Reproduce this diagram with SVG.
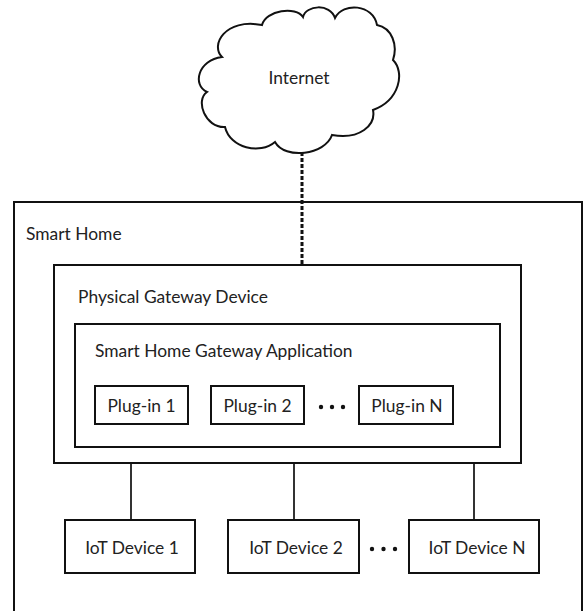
<svg xmlns="http://www.w3.org/2000/svg" width="584" height="611" viewBox="0 0 584 611">
<style>
.box{fill:#fff;stroke:#111;stroke-width:2}
.cont{fill:none;stroke:#111;stroke-width:2}
.lbl{font-family:Lato,"Open Sans",sans-serif;font-size:17.4px;fill:#222}
.mid{text-anchor:middle}
.conn{stroke:#333;stroke-width:2;fill:none}
.dash{stroke:#111;stroke-width:3;stroke-dasharray:4 2;fill:none}
.dot{fill:#111}
</style>
<rect width="584" height="611" fill="#fff"/>
<g id="smart-home">
<rect class="cont" x="14" y="202" width="568" height="430"/>
<text class="lbl" x="26" y="240">Smart Home</text>
</g>
<g id="connectors">
<line class="dash" x1="302" y1="152" x2="302" y2="265"/>
<line class="conn" x1="131" y1="463" x2="131" y2="520"/>
<line class="conn" x1="294" y1="463" x2="294" y2="520"/>
<line class="conn" x1="474" y1="463" x2="474" y2="520"/>
</g>
<g id="internet">
<path class="box" d="M262,25 C266,10 296,6 303,17 C306,5 330,3 335,18 C343,2 373,4 377,25 C392,28 398,45 393,60 C405,72 400,100 373,110 C376,125 360,140 332,135 C325,155 285,160 275,142 C260,155 230,148 225,127 C205,128 195,100 207,92 C192,85 198,60 222,57 C210,45 225,18 262,25 Z"/>
<text class="lbl mid" x="299" y="84">Internet</text>
</g>
<g id="gateway-device">
<rect class="cont" x="54" y="265" width="467" height="198"/>
<text class="lbl" x="78" y="303">Physical Gateway Device</text>
</g>
<g id="gateway-app">
<rect class="cont" x="75" y="324" width="425" height="123"/>
<text class="lbl" x="95" y="357">Smart Home Gateway Application</text>
</g>
<g id="plugin-1">
<rect class="box" x="95" y="386" width="93" height="38"/>
<text class="lbl mid" x="141.5" y="412">Plug-in 1</text>
</g>
<g id="plugin-2">
<rect class="box" x="211" y="386" width="93" height="38"/>
<text class="lbl mid" x="257.5" y="412">Plug-in 2</text>
</g>
<g id="plugin-dots">
<circle class="dot" cx="321" cy="407" r="2.2"/>
<circle class="dot" cx="332" cy="407" r="2.2"/>
<circle class="dot" cx="343" cy="407" r="2.2"/>
</g>
<g id="plugin-n">
<rect class="box" x="359" y="386" width="94" height="38"/>
<text class="lbl mid" x="407" y="412">Plug-in N</text>
</g>
<g id="iot-1">
<rect class="box" x="65" y="520" width="130" height="53"/>
<text class="lbl mid" x="132" y="554">IoT Device 1</text>
</g>
<g id="iot-2">
<rect class="box" x="228" y="520" width="131" height="53"/>
<text class="lbl mid" x="296" y="554">IoT Device 2</text>
</g>
<g id="iot-dots">
<circle class="dot" cx="372" cy="549" r="2.2"/>
<circle class="dot" cx="383.5" cy="549" r="2.2"/>
<circle class="dot" cx="395" cy="549" r="2.2"/>
</g>
<g id="iot-n">
<rect class="box" x="409" y="520" width="130" height="53"/>
<text class="lbl mid" x="477" y="554">IoT Device N</text>
</g>
</svg>
